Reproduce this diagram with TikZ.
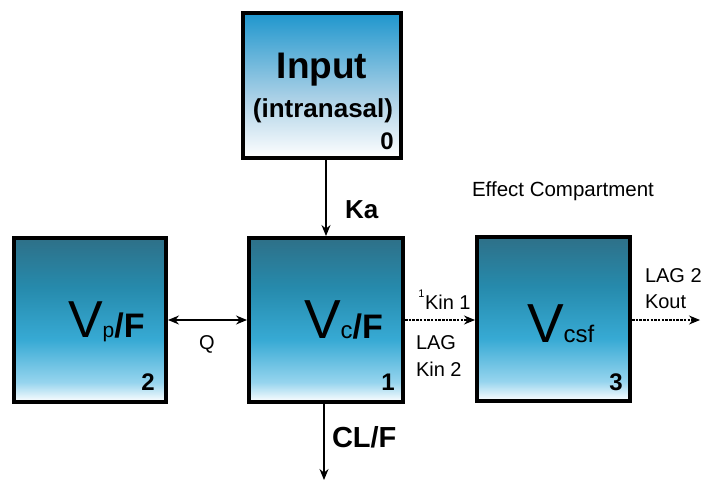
\documentclass[tikz,border=0pt]{standalone}
\usepackage{fontspec}
\setmainfont{Liberation Sans}
\usetikzlibrary{arrows.meta}
\definecolor{cA}{RGB}{46,112,136}
\definecolor{cB}{RGB}{38,138,172}
\definecolor{cC}{RGB}{55,170,212}
\definecolor{cD}{RGB}{150,212,238}
\definecolor{iA}{RGB}{30,150,205}
\definecolor{iB}{RGB}{120,180,215}
\pgfdeclareverticalshading{vshade}{100bp}{color(0bp)=(white); color(25bp)=(white); color(31bp)=(cD); color(44bp)=(cC); color(60bp)=(cB); color(75bp)=(cA); color(100bp)=(cA)}
\pgfdeclareverticalshading{ishade}{100bp}{color(0bp)=(white); color(25bp)=(white); color(45bp)=(iB!60!white); color(75bp)=(iA); color(100bp)=(iA)}
\tikzset{
  box/.style={draw=black, line width=4pt, shading=vshade, inner sep=0pt},
  inbox/.style={draw=black, line width=4pt, shading=ishade, inner sep=0pt},
  txt/.style={inner sep=0pt, outer sep=0pt},
  arr/.style={line width=1.3pt, -{Stealth[length=11pt,width=9pt]}},
  darr/.style={line width=1.3pt, {Stealth[length=11pt,width=9pt]}-{Stealth[length=11pt,width=9pt]}},
  dsh/.style={line width=1.1pt, dash pattern=on 2.5pt off 1.2pt, -{Stealth[length=11pt,width=9pt]}},
  num/.style={txt, font=\bfseries\fontsize{24}{24}\selectfont},
  lbl/.style={txt, anchor=west, font=\fontsize{20}{20}\selectfont}
}
\begin{document}
\begin{tikzpicture}[x=1pt,y=-1pt]
\useasboundingbox (0,0) rectangle (708,481);
% boxes
\node[inbox, minimum width=158pt, minimum height=145pt] (Input) at (322,85.5) {};
\node[box, minimum width=152pt, minimum height=164pt] (Vp) at (90,320) {};
\node[box, minimum width=154pt, minimum height=164pt] (Vc) at (326,320) {};
\node[box, minimum width=153pt, minimum height=164pt] (Vcsf) at (553.5,319) {};
% box texts
\node[txt, font=\bfseries\fontsize{37}{37}\selectfont] (tin) at (322,70) {Input};
\node[txt, font=\bfseries\fontsize{26}{26}\selectfont] (tin2) at (323,111) {(intranasal)};
\node[num] (n0) at (387,141) {0};
\node[txt, anchor=base west] (tvp) at (68,337) {\fontsize{52}{52}\selectfont V\fontsize{21}{21}\selectfont p\bfseries\fontsize{34}{34}\selectfont/F};
\node[txt, anchor=base west] (tvc) at (304,338) {\fontsize{55}{55}\selectfont V\fontsize{24}{24}\selectfont c\bfseries\fontsize{34}{34}\selectfont/F};
\node[txt, anchor=base west] (tvcsf) at (527,342) {\fontsize{55}{55}\selectfont V\fontsize{24}{24}\selectfont csf};
\node[num] (n2) at (148,382) {2};
\node[num] (n1) at (388,382) {1};
\node[num] (n3) at (616,382) {3};
% connectors
\draw[arr] (Vc.north |- Input.south) -- (Vc.north);
\draw[darr] (Vp.east) -- (Vc.west);
\draw[dsh] (Vc.east) -- (Vcsf.west |- Vc.east);
\coordinate (outend) at (700,320);
\draw[dsh] (Vcsf.east |- outend) -- (outend);
\coordinate (clend) at (324,480);
\draw[arr] (Vc.south -| clend) -- (clend);
% labels
\node[txt, anchor=west, font=\bfseries\fontsize{26}{26}\selectfont] (ka) at (345,210) {Ka};
\node[txt, font=\fontsize{20}{20}\selectfont] (q) at (207,344) {Q};
\node[lbl] (kin1) at (425,302) {Kin 1};
\node[txt, anchor=east, font=\fontsize{11}{11}\selectfont] (sup1) at (424.5,294) {1};
\node[lbl] (lag) at (416,343) {LAG};
\node[lbl] (kin2) at (416,369) {Kin 2};
\node[lbl] (lag2) at (645,276) {LAG 2};
\node[lbl] (kout) at (645,302) {Kout};
\node[txt, font=\fontsize{20.5}{20.5}\selectfont] (eff) at (563,191) {Effect Compartment};
\node[txt, anchor=west, font=\bfseries\fontsize{29}{29}\selectfont] (cl) at (332,437) {CL/F};
\end{tikzpicture}
\end{document}
